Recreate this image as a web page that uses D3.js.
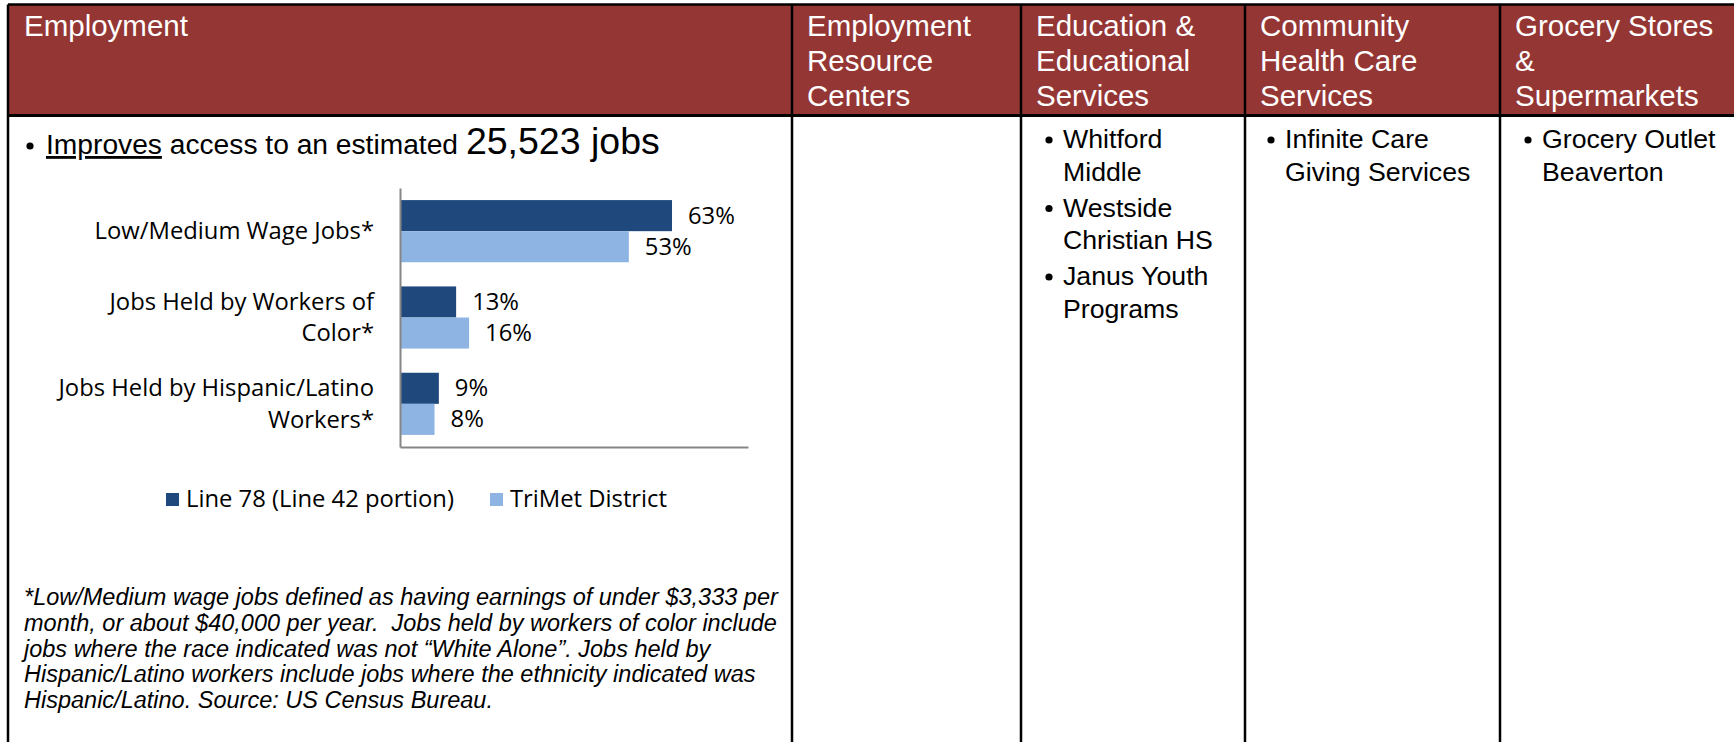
<!DOCTYPE html>
<html>
<head>
<meta charset="utf-8">
<script src="https://cdn.jsdelivr.net/npm/d3@7"></script>
<style>
  body { margin: 0; background: #fff; }
  svg { display: block; }
</style>
</head>
<body>
<svg id="page" width="1734" height="742"></svg>
<script>
// chart values
const categories = [
    ["Low/Medium Wage Jobs*"],
    ["Jobs Held by Workers of", "Color*"],
    ["Jobs Held by Hispanic/Latino", "Workers*"]
];
const seriesNames = ["Line 78 (Line 42 portion)", "TriMet District"];
const line78Values = [0.63, 0.13, 0.09];
const trimetValues = [0.53, 0.16, 0.08];
const seriesColors = ["#1f497d", "#8eb4e3"];

// table text
const headerLines = [
    ["Employment"],
    ["Employment", "Resource", "Centers"],
    ["Education &", "Educational", "Services"],
    ["Community", "Health Care", "Services"],
    ["Grocery Stores", "&", "Supermarkets"]
];
const educationItems = [["Whitford", "Middle"], ["Westside", "Christian HS"], ["Janus Youth", "Programs"]];
const healthItems = [["Infinite Care", "Giving Services"]];
const groceryItems = [["Grocery Outlet", "Beaverton"]];
const footnoteLines = [
    "*Low/Medium wage jobs defined as having earnings of under $3,333 per",
    "month, or about $40,000 per year.  Jobs held by workers of color include",
    "jobs where the race indicated was not \u201cWhite Alone\u201d. Jobs held by",
    "Hispanic/Latino workers include jobs where the ethnicity indicated was",
    "Hispanic/Latino. Source: US Census Bureau."
];

const svg = d3.select("#page");
const colEdges = [8, 792, 1021, 1245, 1500, 1734];
const headTop = 4.5, headBottom = 115.5;
const font = "'Liberation Sans', Arial, sans-serif";
const chartFont = "'Open Sans', sans-serif";
const chartSize = "23.8px";

// header band
svg.append("rect")
    .attr("x", colEdges[0]).attr("y", headTop)
    .attr("width", colEdges[5] - colEdges[0]).attr("height", headBottom - headTop)
    .attr("fill", "#943634");

headerLines.forEach((lines, i) => {
    let t = svg.append("text")
        .attr("x", colEdges[i] + (i == 0 ? 16 : 15))
        .attr("y", 35.5)
        .attr("fill", "#fff")
        .style("font-family", font)
        .style("font-size", "29.5px");
    t.selectAll("tspan").data(lines).join("tspan")
        .attr("x", colEdges[i] + (i == 0 ? 16 : 15))
        .attr("dy", (d, j) => j == 0 ? 0 : 35)
        .text(d => d);
});

// grid lines
svg.append("line").attr("x1", colEdges[0]).attr("x2", 1734).attr("y1", headTop).attr("y2", headTop)
    .attr("stroke", "#000").attr("stroke-width", 2.5);
svg.append("line").attr("x1", colEdges[0]).attr("x2", 1734).attr("y1", headBottom).attr("y2", headBottom)
    .attr("stroke", "#000").attr("stroke-width", 3);
colEdges.slice(0, 5).forEach(x => {
    svg.append("line").attr("x1", x).attr("x2", x).attr("y1", headTop).attr("y2", 742)
        .attr("stroke", "#000").attr("stroke-width", 2.5);
});

// first line of employment cell
svg.append("circle").attr("cx", 30).attr("cy", 146).attr("r", 3.6).attr("fill", "#000");
let lead = svg.append("text")
    .attr("x", 46).attr("y", 154)
    .style("font-family", font)
    .style("font-size", "28.2px")
    .attr("fill", "#000");
lead.append("tspan").attr("text-decoration", "underline").text("Improves");
lead.append("tspan").text(" access to an estimated ");
lead.append("tspan").style("font-size", "37.5px").text("25,523 jobs");

// bar chart
const x = d3.scaleLinear().domain([0, 0.806]).range([400, 748]);
const y = d3.scaleBand().domain(d3.range(categories.length))
    .range([188, 447]).paddingInner(0.28).paddingOuter(0.14);
const ySub = d3.scaleBand().domain([0, 1]).range([0, y.bandwidth()]);

const rows = categories.map((c, i) => ({ i: i, label: c, values: [line78Values[i], trimetValues[i]] }));

const groups = svg.append("g").selectAll("g").data(rows).join("g")
    .attr("transform", d => `translate(0,${y(d.i)})`);

groups.selectAll("rect").data(d => d.values).join("rect")
    .attr("x", x(0))
    .attr("y", (d, k) => ySub(k))
    .attr("width", d => x(d) - x(0))
    .attr("height", ySub.bandwidth())
    .attr("fill", (d, k) => seriesColors[k]);

groups.selectAll("text.val").data(d => d.values).join("text")
    .attr("class", "val")
    .attr("x", d => x(d) + 16)
    .attr("y", (d, k) => ySub(k) + ySub.bandwidth() / 2 + 8)
    .style("font-family", chartFont)
    .style("font-size", chartSize)
    .attr("fill", "#000")
    .text(d => d3.format(".0%")(d));

groups.append("text")
    .attr("text-anchor", "end")
    .style("font-family", chartFont)
    .style("font-size", chartSize)
    .attr("fill", "#000")
    .selectAll("tspan").data(d => d.label).join("tspan")
    .attr("x", 374)
    .attr("y", (t, j, nodes) => y.bandwidth() / 2 + 8 - (nodes.length - 1) * 16 + j * 32)
    .text(t => t);

// axes: just the lines, no ticks
const axisColor = "#868686";
svg.append("g")
    .attr("transform", `translate(${x(0)},0)`)
    .call(d3.axisLeft(y).tickSize(0).tickFormat("").tickSizeOuter(0))
    .call(g => g.select(".domain").attr("stroke", axisColor).attr("stroke-width", 2));
svg.append("g")
    .attr("transform", `translate(0,${y.range()[1]})`)
    .call(d3.axisBottom(x).ticks(0).tickSizeOuter(0))
    .call(g => g.select(".domain").attr("stroke", axisColor).attr("stroke-width", 2));

// legend
const legendX = [166, 490];
const legend = svg.append("g").selectAll("g").data(seriesNames).join("g")
    .attr("transform", (d, i) => `translate(${legendX[i]},493)`);
legend.append("rect").attr("width", 13).attr("height", 13)
    .attr("fill", (d, i) => seriesColors[i]);
legend.append("text").attr("x", 20).attr("y", 14)
    .style("font-family", chartFont)
    .style("font-size", chartSize)
    .attr("fill", "#000")
    .text(d => d);

// footnote
svg.append("g").selectAll("text").data(footnoteLines).join("text")
    .attr("x", 24)
    .attr("y", (d, i) => 605 + i * 25.8)
    .style("font-family", font)
    .style("font-size", "23.5px")
    .style("font-style", "italic")
    .style("white-space", "pre")
    .attr("fill", "#000")
    .text(d => d);

// bullet lists in the other columns
function bulletList(items, left) {
    let yPos = 148;
    items.forEach(lines => {
        svg.append("circle").attr("cx", left - 14).attr("cy", yPos - 8).attr("r", 3.6).attr("fill", "#000");
        lines.forEach(line => {
            svg.append("text").attr("x", left).attr("y", yPos)
                .style("font-family", font)
                .style("font-size", "26.7px")
                .attr("fill", "#000")
                .text(line);
            yPos += 32.5;
        });
        yPos += 3.5;
    });
}
bulletList(educationItems, 1063);
bulletList(healthItems, 1285);
bulletList(groceryItems, 1542);
</script>
</body>
</html>
